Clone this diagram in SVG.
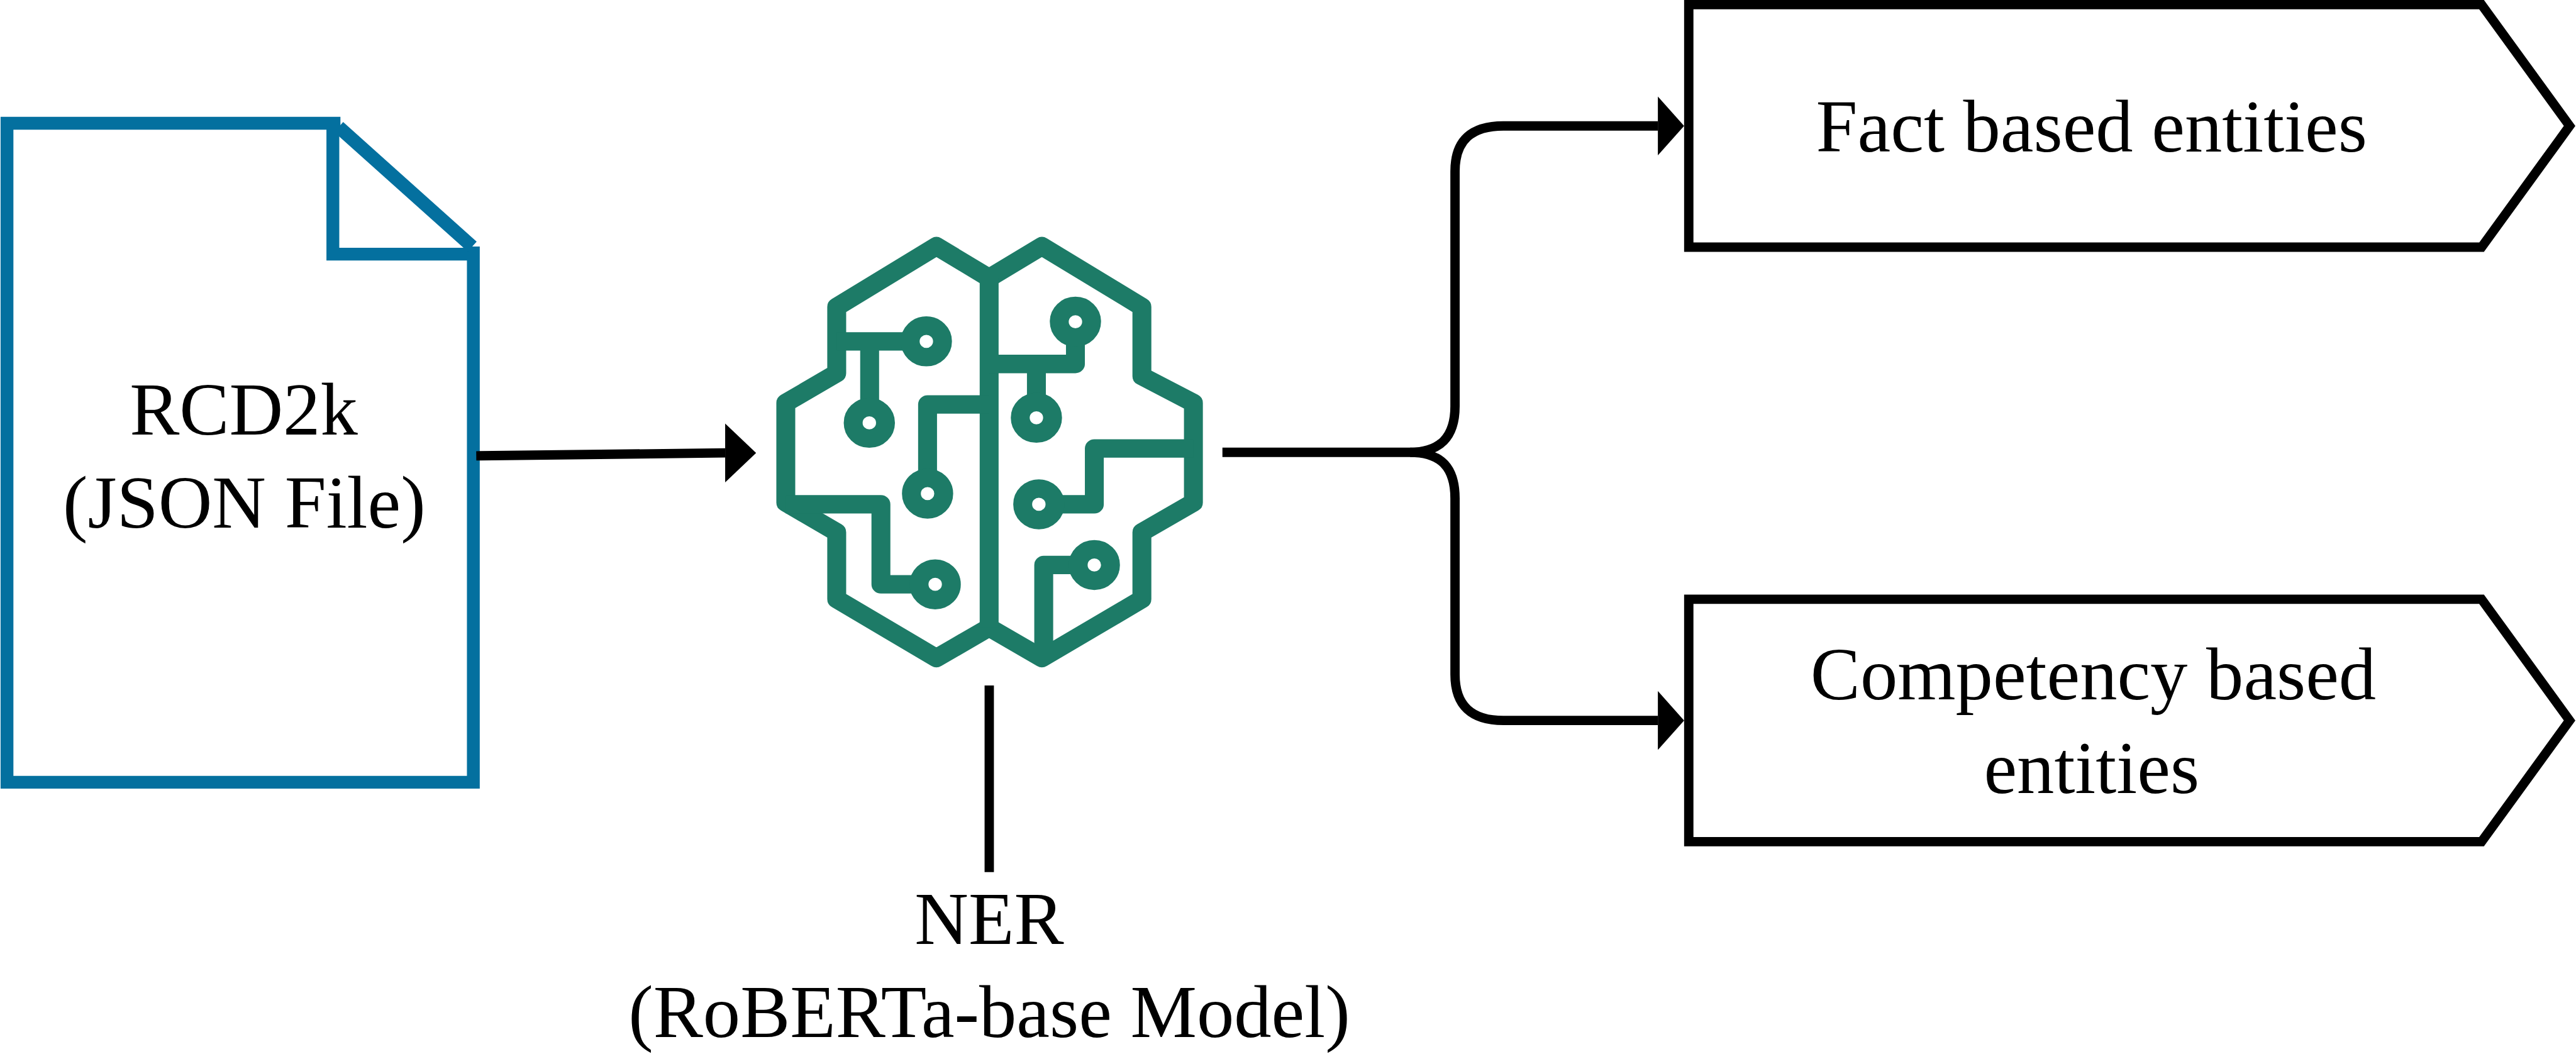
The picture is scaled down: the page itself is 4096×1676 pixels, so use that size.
<svg xmlns="http://www.w3.org/2000/svg" width="4096" height="1676" viewBox="0 0 4096 1676">
<style>
text{font-family:"Liberation Serif","Times New Roman",serif;font-size:128px;fill:#000;text-anchor:middle}
.file{fill:none;stroke:#04709f;stroke-width:22;stroke-linejoin:miter}
.pent{fill:#fff;stroke:#000;stroke-width:16;stroke-linejoin:miter}
.conn{fill:none;stroke:#000;stroke-width:16}
.brain path{fill:none;stroke:#1d7b67;stroke-width:62;stroke-linejoin:round}
.brain circle{fill:#fff;stroke:#1d7b67;stroke-width:62}
</style>
<defs>
<marker id="headA" markerUnits="userSpaceOnUse" markerWidth="53" markerHeight="101" refX="0" refY="50.5" orient="0"><path d="M0 0L53 50.5L0 101Z" fill="#000"/></marker>
<marker id="headB" markerUnits="userSpaceOnUse" markerWidth="45" markerHeight="101" refX="0" refY="50.5" orient="0"><path d="M0 0L45 50.5L0 101Z" fill="#000"/></marker>
</defs>
<rect width="4096" height="1676" fill="#fff"/>
<g transform="scale(.92691)">
<g id="node-file">
<path class="file" d="M12 211.5H584M812 423V1342H12V200.5M571 211V436H812"/>
<path class="file" style="stroke-width:23" d="M581 218L810 423"/>
<text x="418" y="746">RCD2k</text>
<text x="419" y="905">(JSON File)</text>
</g>
<g id="node-brain" class="brain" transform="translate(1280 380) scale(.523 .5102)">
<path d="M797 190L970 83L1298 287V520L1467 610V945L1298 1045V1270L970 1468L797 1365L624 1468L297 1270V1045L130 945V610L297 510V287L624 83Z"/>
<path d="M797 190V1365"/>
<path d="M297 403H591M405 403V677"/>
<path d="M797 615H595V915"/>
<path d="M130 951H442V1220H620"/>
<path d="M797 479H1080V337M952 479V660"/>
<path d="M1467 763H1142V951H960"/>
<path d="M976 1450V1155H1142"/>
<circle cx="591" cy="403" r="53"/>
<circle cx="404" cy="677" r="53"/>
<circle cx="595" cy="915" r="53"/>
<circle cx="620" cy="1220" r="53"/>
<circle cx="1080" cy="337" r="53"/>
<circle cx="952" cy="660" r="53"/>
<circle cx="960" cy="951" r="53"/>
<circle cx="1142" cy="1155" r="53"/>
</g>
<g id="connectors">
<path class="conn" d="M817 782L1244 777" marker-end="url(#headA)"/>
<path class="conn" d="M1697 1176V1496"/>
<path class="conn" d="M2097 776H2419C2470 776 2496 750 2496 697V294C2496 240 2525 216 2579 216H2844" marker-end="url(#headB)"/>
<path class="conn" d="M2419 776C2470 776 2496 800 2496 855V1157C2496 1211 2525 1236 2579 1236H2844" marker-end="url(#headB)"/>
</g>
<g id="node-fact">
<path class="pent" d="M2897 8H4257L4408 216L4257 424H2897Z"/>
<text x="3588" y="260">Fact based entities</text>
</g>
<g id="node-competency">
<path class="pent" d="M2897 1028H4257L4408 1236L4257 1444H2897Z"/>
<text x="3591" y="1200">Competency based</text>
<text x="3588" y="1360">entities</text>
</g>
<g id="node-ner-label">
<text x="1697" y="1619">NER</text>
<text x="1697" y="1779">(RoBERTa-base Model)</text>
</g>
</g>
</svg>
